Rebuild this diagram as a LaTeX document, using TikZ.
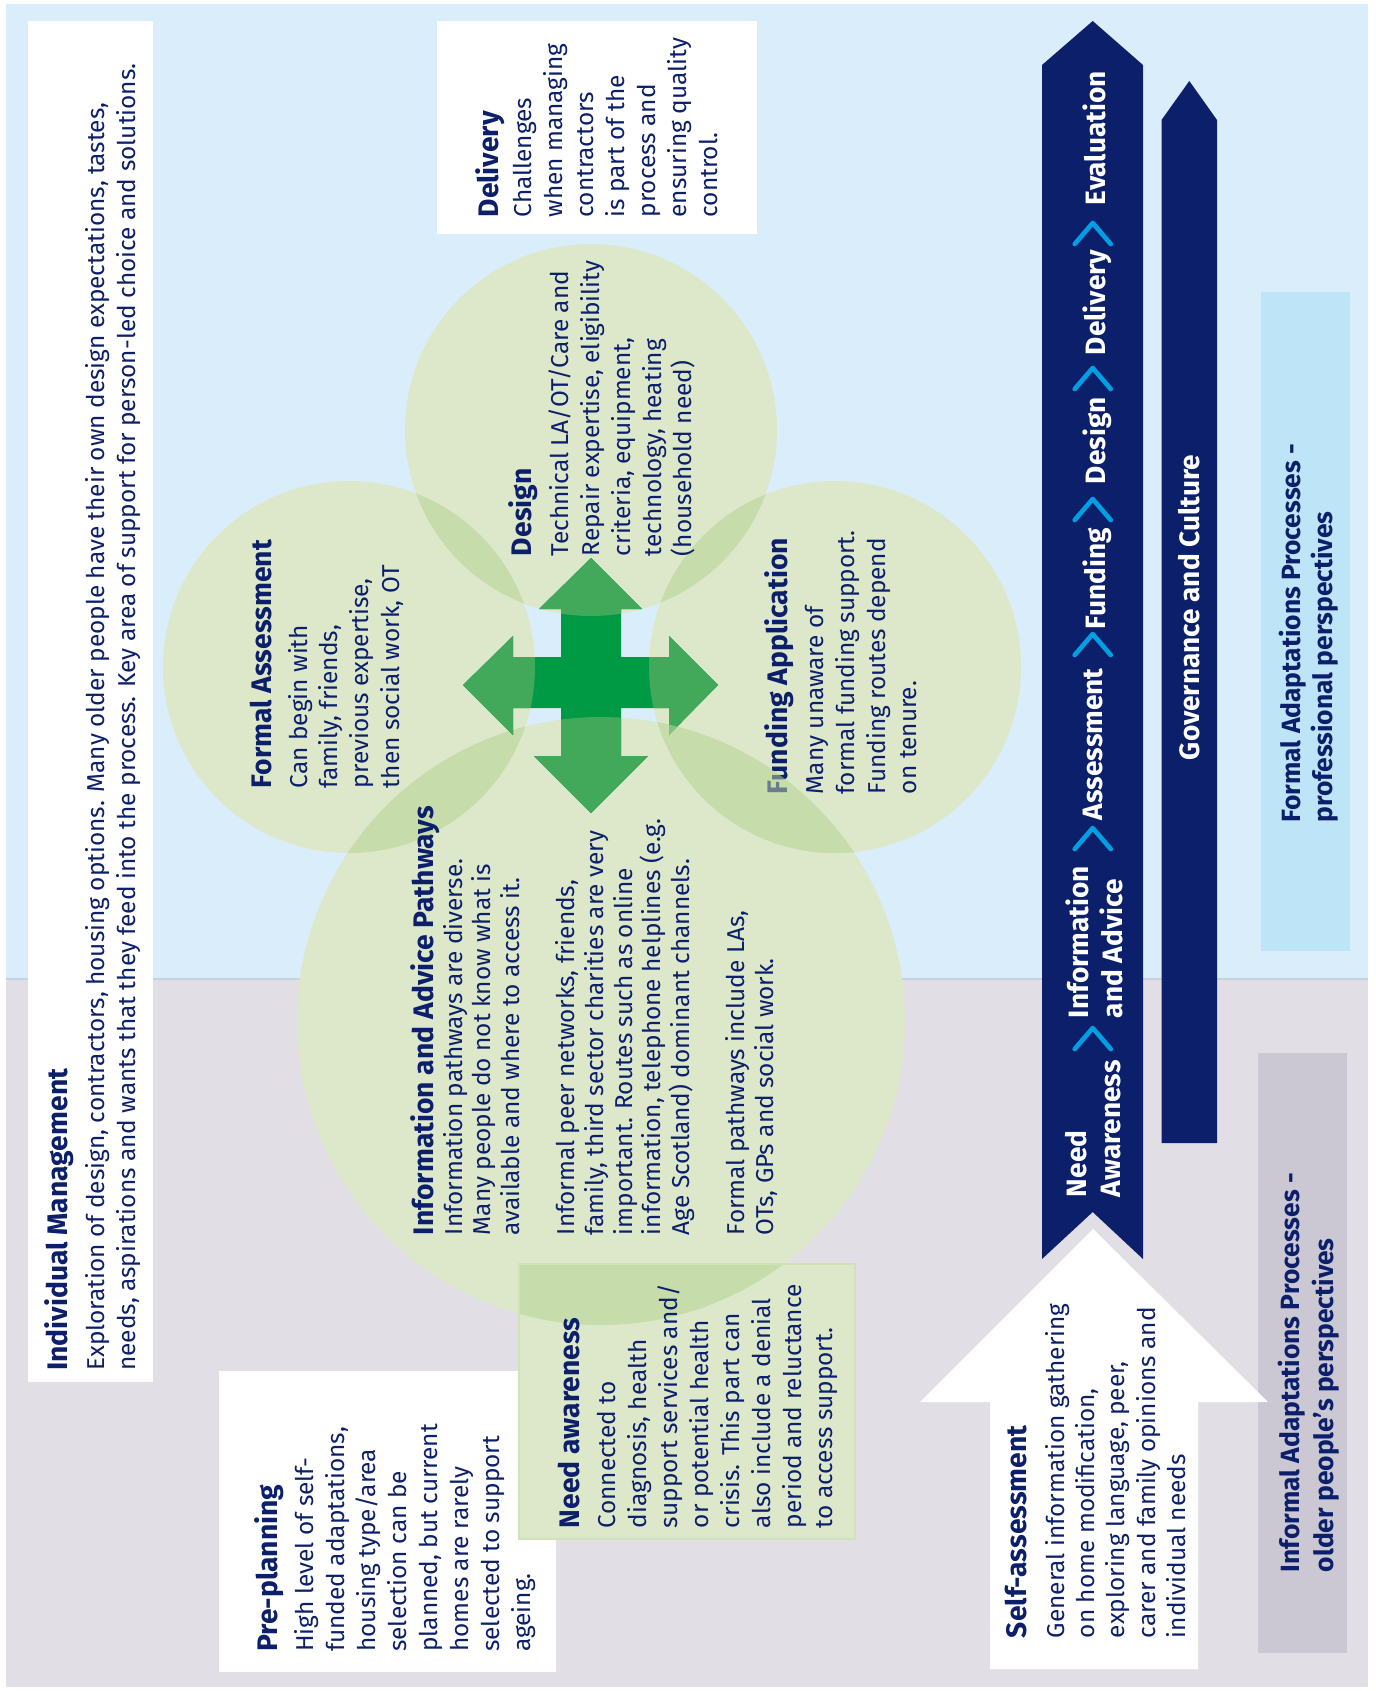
\documentclass[tikz,border=0pt]{standalone}
\usepackage{fontspec}
\setmainfont{Fira Sans}
\definecolor{navy}{HTML}{0C1F6A}
\definecolor{bgblue}{HTML}{D9EEFA}
\definecolor{bggrey}{HTML}{E1DFE5}
\definecolor{circ}{HTML}{DCE8C9}
\definecolor{circo}{HTML}{C6DDAB}
\definecolor{crossd}{HTML}{009A44}
\definecolor{crossl}{HTML}{42A85A}
\definecolor{formalc}{HTML}{BEE4F7}
\definecolor{informalc}{HTML}{CBC8D3}
\definecolor{chevc}{HTML}{009FE3}
\definecolor{sepc}{HTML}{C8D2DE}
\definecolor{needbd}{HTML}{CFE2B8}
\begin{document}
\begin{tikzpicture}[x=0.75pt,y=-0.75pt,
  txt/.style={rotate=90,anchor=north west,inner sep=0pt,outer sep=0pt,align=left,text=navy},
  ttl/.style={txt,font=\fontsize{21.2}{25}\selectfont\bfseries},
  bdy/.style={txt,font=\fontsize{18.3}{#1}\selectfont},
  bdy/.default=23.25,
  lbl/.style={txt,text=white,font=\fontsize{21}{#1}\selectfont\bfseries},
  lbl/.default=25.5,
  sidelbl/.style={txt,font=\fontsize{19.8}{#1}\selectfont\bfseries},
  chev/.style={draw=chevc,line width=3.5pt,line cap=round,line join=round},
  crosspath/.style={insert path={(591,558) -- (642,609) -- (621,609) -- (621,657) -- (669,657) -- (669,636) -- (718,685) -- (669,735) -- (669,708) -- (621,708) -- (621,756) -- (648,756) -- (591,813) -- (534,756) -- (561,756) -- (561,708) -- (513,708) -- (513,735) -- (463,685) -- (513,636) -- (513,657) -- (561,657) -- (561,609) -- (539,609) -- cycle}}
]
\useasboundingbox (0,0) rectangle (1375,1691);
% backgrounds
\fill[bgblue] (6,4.5) rectangle (1368,979);
\fill[bggrey] (6,979) rectangle (1368,1687);
\draw[sepc,line width=1pt] (6,979) -- (1368,979);

% white boxes
\fill[white] (28.3,21) rectangle (152.7,1381.7);
\fill[white] (437,21) rectangle (756.5,234);
\fill[white] (219,1371) rectangle (555.6,1672);

% circles
\coordinate (fa) at (349,667);
\coordinate (de) at (591,430);
\coordinate (fu) at (835,667);
\coordinate (ia) at (601,1021);
\fill[circ] (fa) circle[radius=186];
\fill[circ] (de) circle[radius=186];
\fill[circ] (fu) circle[radius=186];
\fill[circ] (ia) circle[radius=304];
\begin{scope}\clip (fa) circle[radius=186]; \fill[circo] (de) circle[radius=186]; \end{scope}
\begin{scope}\clip (fa) circle[radius=186]; \fill[circo] (ia) circle[radius=304]; \end{scope}
\begin{scope}\clip (fu) circle[radius=186]; \fill[circo] (de) circle[radius=186]; \end{scope}
\begin{scope}\clip (fu) circle[radius=186]; \fill[circo] (ia) circle[radius=304]; \end{scope}

% cross
\fill[crossd,crosspath];
\begin{scope}\clip (fa) circle[radius=186]; \fill[crossl,crosspath]; \end{scope}
\begin{scope}\clip (de) circle[radius=186]; \fill[crossl,crosspath]; \end{scope}
\begin{scope}\clip (fu) circle[radius=186]; \fill[crossl,crosspath]; \end{scope}
\begin{scope}\clip (ia) circle[radius=304]; \fill[crossl,crosspath]; \end{scope}

% need awareness box
\fill[circ] (519,1264) rectangle (855,1539);
\begin{scope}\clip (519,1264) rectangle (855,1539); \fill[circo] (ia) circle[radius=304]; \end{scope}
\draw[needbd,line width=0.8pt] (519,1264) rectangle (855,1539);

% right side boxes
\fill[formalc] (1260.5,292) rectangle (1350,951);
\fill[informalc] (1258,1053) rectangle (1346.6,1653);

% big arrow
\fill[navy] (1042,1259) -- (1042,65) -- (1092.7,21) -- (1143,65) -- (1143,1259) -- (1092.7,1212) -- cycle;
% governance arrow
\fill[navy] (1161.5,1143) -- (1161.5,120) -- (1189.3,81) -- (1217,120) -- (1217,1143) -- cycle;
% self-assessment arrow
\fill[white] (1093,1229) -- (1268,1402) -- (1198,1402) -- (1198,1669) -- (990,1669) -- (990,1402) -- (920,1402) -- cycle;

% chevrons
\foreach \ya in {223,368,499,634,828,1028}{
  \draw[chev] (1074.7,\ya+21) -- (1092.7,\ya) -- (1110.7,\ya+21);
}

% texts
\node[ttl] (imT) at (45,1370.7) {Individual Management};
\node[bdy=23.8] (imB) at (85,1370.7) {Exploration of design, contractors, housing options. Many older people have their own design expectations, tastes,\\needs, aspirations and wants that they feed into the process. Key area of support for person-led choice and solutions.};

\node[ttl] (dlT) at (475.4,217.4) {Delivery};
\node[bdy=23.25] (dlB) at (513,217.4) {Challenges\\when managing\\contractors\\is part of the\\process and\\ensuring quality\\control.};

\node[ttl] (dsT) at (509,556) {Design};
\node[bdy=23.1] (dsB) at (549,556) {Technical LA/OT/Care and\\Repair expertise, eligibility\\criteria, equipment,\\technology, heating\\(household need)};

\node[ttl] (faT) at (250,788) {Formal Assessment};
\node[bdy=23] (faB) at (288,788) {Can begin with\\family, friends,\\previous expertise,\\then social work, OT};

\node[ttl] (fuT) at (764.6,794) {Funding Application};
\node[bdy=23.1] (fuB) at (805.5,794) {Many unaware of\\formal funding support.\\Funding routes depend\\on tenure.};
% the information circle lies over the first letter of the funding title
\begin{scope}\clip (fu) circle[radius=186]; \fill[circo,opacity=0.5] (ia) circle[radius=304]; \end{scope}

\node[ttl] (iaT) at (411,1235) {Information and Advice Pathways};
\node[bdy=21.6] (iaB) at (443,1235) {Information pathways are diverse.\\Many people do not know what is\\available and where to access it.\\[19.5pt]Informal peer networks, friends,\\family, third sector charities are very\\important. Routes such as online\\information, telephone helplines (e.g.\\Age Scotland) dominant channels.\\[19.5pt]Formal pathways include LAs,\\OTs, GPs and social work.};

\node[ttl] (naT) at (558,1528) {Need awareness};
\node[bdy=23.25] (naB) at (597.6,1528) {Connected to\\diagnosis, health\\support services and/\\or potential health\\crisis. This part can\\also include a denial\\period and reluctance\\to access support.};

\node[ttl] (ppT) at (255,1651.7) {Pre-planning};
\node[bdy=23.25] (ppB) at (294.6,1651.7) {High level of self-\\funded adaptations,\\housing type/area\\selection can be\\planned, but current\\homes are rarely\\selected to support\\ageing.};

\node[ttl] (saT) at (1005,1638) {Self-assessment};
\node[bdy=22.8] (saB) at (1045,1638) {General information gathering\\on home modification,\\exploring language, peer,\\carer and family opinions and\\individual needs};

\node[sidelbl=24.4] (formal) at (1279,822.5) {Formal Adaptations Processes -\\professional perspectives};
\node[sidelbl=25.5] (informal) at (1278,1572) {Informal Adaptations Processes -\\older people’s perspectives};

\node[lbl] (sNeed) at (1065.7,1197) {Need\\Awareness};
\node[lbl] (sInfo) at (1065.7,1018) {Information\\and Advice};
\node[lbl] (sAss) at (1083,820) {Assessment};
\node[lbl] (sFun) at (1083,629) {Funding};
\node[lbl] (sDes) at (1083,484) {Design};
\node[lbl] (sDel) at (1083,355) {Delivery};
\node[lbl] (sEva) at (1083,205) {Evaluation};
\node[lbl] (gov) at (1178,760) {Governance and Culture};
\end{tikzpicture}
\end{document}
